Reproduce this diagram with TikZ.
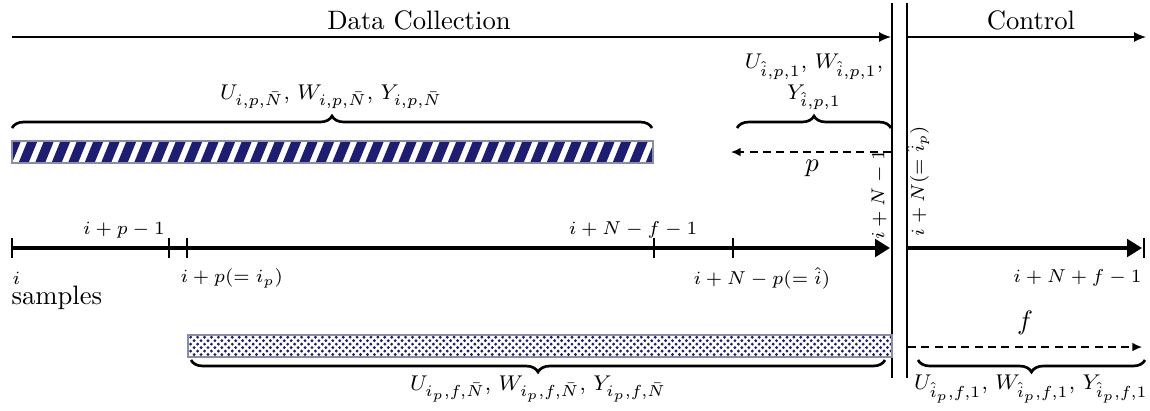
\documentclass[tikz,border=0pt]{standalone}
\usepackage{amsmath,amssymb}
\usetikzlibrary{arrows.meta, positioning, decorations.pathreplacing, patterns.meta}
\definecolor{stripenavy}{RGB}{30,30,112}
\definecolor{barframe}{RGB}{140,140,165}

\tikzdeclarepattern{
  name=navydots, type=uncolored,
  bottom left={(-.8pt,-.8pt)}, top right={(3.4pt,3.4pt)},
  tile size={(2.6pt,2.6pt)},
  code={\fill (0pt,0pt) circle (.6pt); \fill (1.3pt,1.3pt) circle (.6pt);}
}

\begin{document}
\begin{tikzpicture}[x=0.375pt, y=-0.375pt,
    phase/.style={-{Latex[length=4.5pt,width=3.8pt]}, line width=0.6pt},
    timeline/.style={-{Triangle[length=5.6pt,width=6.6pt]}, line width=1.2pt},
    tickmark/.style={line width=0.8pt},
    divider/.style={line width=0.7pt},
    shiftarrow/.style={dash pattern=on 3pt off 2pt, -{Latex[length=3.6pt,width=3.2pt]}, line width=0.5pt},
    window/.style={decorate, decoration={brace, amplitude=4.5pt}, line width=1pt},
    windowlow/.style={decorate, decoration={brace, mirror, amplitude=4.5pt}, line width=1pt},
    ticklabel/.style={font=\scriptsize, inner sep=0pt},
    setlabel/.style={font=\footnotesize, inner sep=0pt, align=center}]
  \useasboundingbox (0,0) rectangle (1150,410);
  % Phases
  \coordinate (dcstart) at (12,37);
  \coordinate (dcend) at (891,37);
  \coordinate (ctstart) at (907,37);
  \coordinate (ctend) at (1146,37);
  \draw[phase] (dcstart) -- (dcend);
  \draw[phase] (ctstart) -- (ctend);
  \node (dclabel) at (419,20) {Data Collection};
  \node (ctlabel) at (1031,20) {Control};
  % Dividers
  \coordinate (ldivtop) at (892,3);
  \coordinate (ldivbot) at (892,378);
  \coordinate (rdivtop) at (907,3);
  \coordinate (rdivbot) at (907,378);
  \draw[divider] (ldivtop) -- (ldivbot);
  \draw[divider] (rdivtop) -- (rdivbot);
  % Past window (striped bar)
  \begin{scope}
    \clip (12,141) rectangle (653,163);
    \foreach \s in {0,...,39}
      \fill[stripenavy] ({2+16.5*\s},163) -- ++(10,0) -- ++(9,-22) -- ++(-10,0) -- cycle;
  \end{scope}
  \draw[barframe, line width=0.5pt] (12,141) rectangle (653,163);
  % Future window (dotted bar)
  \fill[pattern={navydots}, pattern color=stripenavy] (188,335) rectangle (892,357);
  \draw[barframe, line width=0.5pt] (188,335) rectangle (892,357);
  % Time axis
  \coordinate (t0) at (12,248);
  \coordinate (t1) at (169,248);
  \coordinate (t2) at (187,248);
  \coordinate (t3) at (654,248);
  \coordinate (t4) at (733,248);
  \coordinate (tend) at (890,248);
  \coordinate (cstart) at (907,248);
  \coordinate (cend) at (1142,248);
  \coordinate (cbar) at (1144,248);
  \draw[timeline] (t0) -- (tend);
  \draw[timeline] (cstart) -- (cend);
  \foreach \t in {t0,t1,t2,t3,t4,cbar}
    \draw[tickmark] (\t) ++(0,-10) -- ++(0,20);
  % Tick labels
  \node[ticklabel, anchor=west] (lt0) at (12,278) {$i$};
  \node[ticklabel] (lt1) at (124,230) {$i+p-1$};
  \node[ticklabel, anchor=west] (lt2) at (180,278) {$i+p(=i_p)$};
  \node[ticklabel] (lt3) at (633,230) {$i+N-f-1$};
  \node[ticklabel, anchor=west] (lt4) at (693,278) {$i+N-p(=\hat{i})$};
  \node[ticklabel, anchor=east] (lcend) at (1142,278) {$i+N+f-1$};
  \node[ticklabel, rotate=90] (lldiv) at (879,195) {$i+N-1$};
  \node[ticklabel, rotate=90] (lrdiv) at (918,181) {$i+N(=\hat{i}_p)$};
  \node[anchor=west, inner sep=0pt] (samples) at (11,298) {samples};
  % Shift arrows
  \coordinate (pstart) at (891,152);
  \coordinate (pend) at (731,152);
  \draw[shiftarrow] (pstart) -- (pend);
  \node (plabel) at (812,168) {$p$};
  \coordinate (fstart) at (908,347);
  \coordinate (fend) at (1142,347);
  \draw[shiftarrow] (fstart) -- (fend);
  \node (flabel) at (1025,323) {$f$};
  % Braces
  \draw[window] (12,128) -- (652,128);
  \node[setlabel] (pastset) at (331,97) {$U_{i,p,\bar{N}}$, $W_{i,p,\bar{N}}$, $Y_{i,p,\bar{N}}$};
  \draw[window] (737,128) -- (891,128);
  \node[setlabel] (pastone) at (814,82) {$U_{\hat{i},p,1}$,\ $W_{\hat{i},p,1}$,\\[2pt] $Y_{\hat{i},p,1}$};
  \draw[windowlow] (191,360) -- (885,360);
  \node[setlabel] (futset) at (538,389) {$U_{i_p,f,\bar{N}}$, $W_{i_p,f,\bar{N}}$, $Y_{i_p,f,\bar{N}}$};
  \draw[windowlow] (918,360) -- (1145,360);
  \node[setlabel] (futone) at (1031,389) {$U_{\hat{i}_p,f,1}$, $W_{\hat{i}_p,f,1}$, $Y_{\hat{i}_p,f,1}$};
\end{tikzpicture}
\end{document}
